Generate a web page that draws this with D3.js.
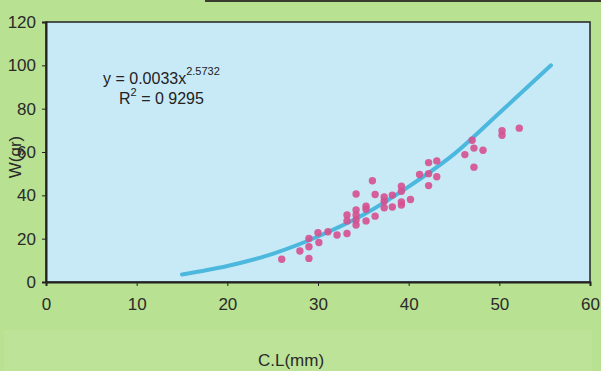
<!DOCTYPE html>
<html>
<head>
<meta charset="utf-8">
<script src="https://cdn.jsdelivr.net/npm/d3@7"></script>
<style>
	body { margin: 0; background: #b7e08f; }
	svg { display: block; font-family: Arial, "Liberation Sans", sans-serif; }
</style>
</head>
<body>
<div id="chart"></div>
<script>
// carapace length (mm) and weight (gr)
let clLength = [26.0, 28.0, 29.0, 29.0, 29.0, 30.0, 30.1, 31.1, 32.1, 33.2, 33.2, 33.2, 34.2, 34.2, 34.2, 34.2, 34.2, 35.3, 35.3, 35.3, 36.0, 36.3, 36.3, 37.3, 37.3, 37.3, 38.2, 38.2, 39.2, 39.2, 39.2, 39.2, 40.2, 41.2, 42.2, 43.1, 42.2, 43.1, 42.2, 46.2, 47.0, 47.2, 48.2, 47.2, 50.3, 50.3, 52.2];
let weight = [10.5, 14.3, 10.9, 16.3, 20.1, 22.7, 18.2, 23.2, 21.7, 30.9, 28.2, 22.4, 40.6, 33.2, 30.9, 28.6, 26.3, 35.0, 33.6, 28.2, 46.7, 40.4, 30.4, 39.2, 37.3, 34.3, 40.1, 34.6, 44.2, 41.9, 37.0, 35.5, 38.1, 49.6, 55.1, 55.9, 50.0, 48.6, 44.5, 58.8, 65.4, 61.8, 60.8, 53.0, 69.8, 67.7, 71.0];

// power trend line as drawn
let trendX = [15, 20, 25, 30, 35, 40, 45, 50, 55.7];
let trendY = [3.5, 7.4, 13.0, 21.0, 31.0, 44.0, 59.0, 78.0, 100.0];

let xTicks = [0, 10, 20, 30, 40, 50, 60];
let yTicks = [0, 20, 40, 60, 80, 100, 120];

window.addEventListener("DOMContentLoaded", (event) => {
	let width = 601,
		height = 371;
	let margin = { left: 46, right: 11, top: 22, bottom: 89 };
	let font = "Arial, 'Liberation Sans', sans-serif";

	let svg = d3.select("#chart").append("svg").attr("width", width).attr("height", height);

	svg.append("rect").attr("width", width).attr("height", height).attr("fill", "#b8e191");
	// scan leftovers: dark strip at top, faint panel round the axis title
	svg.append("rect").attr("x", 205).attr("y", 0).attr("width", 396).attr("height", 2).attr("fill", "#3a3a30");
	svg.append("rect").attr("x", 4).attr("y", 330).attr("width", 588).attr("height", 45).attr("fill", "#bce397");

	let x = d3.scaleLinear().domain([0, 60]).range([margin.left, width - margin.right]);
	let y = d3.scaleLinear().domain([0, 120]).range([height - margin.bottom, margin.top]);

	// plot area
	svg
		.append("rect")
		.attr("x", x(0))
		.attr("y", y(120))
		.attr("width", x(60) - x(0))
		.attr("height", y(0) - y(120))
		.attr("fill", "#c8eaf7")
		.attr("stroke", "#222")
		.attr("stroke-width", 1.5);

	let xAxis = d3.axisBottom(x).tickValues(xTicks).tickSize(4).tickPadding(12);
	svg
		.append("g")
		.attr("id", "x-axis")
		.attr("transform", "translate(0," + y(0) + ")")
		.call(xAxis)
		.call((g) => g.select(".domain").attr("stroke", "#222").attr("stroke-width", 2));

	let yAxis = d3.axisLeft(y).tickValues(yTicks).tickSize(4).tickPadding(6);
	svg
		.append("g")
		.attr("id", "y-axis")
		.attr("transform", "translate(" + x(0) + ",0)")
		.call(yAxis)
		.call((g) => g.select(".domain").attr("stroke", "#222").attr("stroke-width", 2));

	svg.selectAll(".tick text").attr("font-size", 17).attr("fill", "#2a2a2a").attr("font-family", font);
	svg.selectAll(".tick line").attr("stroke", "#222");

	// trend line
	let line = d3
		.line()
		.x((d, i) => x(trendX[i]))
		.y((d) => y(d))
		.curve(d3.curveMonotoneX);
	svg
		.append("path")
		.attr("d", line(trendY))
		.attr("fill", "none")
		.attr("stroke", "#4db8de")
		.attr("stroke-width", 4)
		.attr("stroke-linecap", "round");

	svg
		.selectAll("circle")
		.data(weight)
		.enter()
		.append("circle")
		.attr("cx", (d, i) => x(clLength[i]))
		.attr("cy", (d) => y(d))
		.attr("r", 3.7)
		.attr("fill", "#d5508f")
		.attr("opacity", 0.9);

	// equation
	let eq = svg.append("text").attr("x", 103).attr("y", 84).attr("font-size", 16).attr("fill", "#222");
	eq.append("tspan").text("y = 0.0033x");
	eq.append("tspan").attr("dy", -9).attr("font-size", 11).text("2.5732");
	let r2 = svg.append("text").attr("x", 119).attr("y", 104).attr("font-size", 16).attr("fill", "#222");
	r2.append("tspan").text("R");
	r2.append("tspan").attr("dy", -8).attr("font-size", 11).text("2");
	r2.append("tspan").attr("dy", 8).text(" = 0 9295");

	svg
		.append("text")
		.attr("x", 291)
		.attr("y", 366)
		.attr("text-anchor", "middle")
		.attr("font-size", 17)
		.attr("fill", "#2a2a2a")
		.text("C.L(mm)");

	svg
		.append("text")
		.attr("transform", "translate(21,157) rotate(-90)")
		.attr("text-anchor", "middle")
		.attr("font-size", 17)
		.attr("fill", "#2a2a2a")
		.text("W(gr)");
});
</script>
</body>
</html>
